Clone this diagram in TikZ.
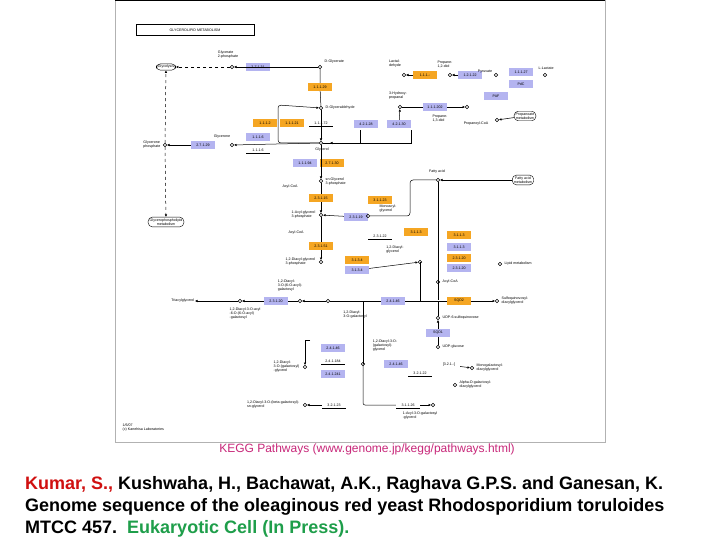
\documentclass[tikz,border=0pt]{standalone}
\usepackage{fontspec}
\setmainfont{Liberation Sans}
\usetikzlibrary{arrows.meta}
\definecolor{eor}{HTML}{F5A623}
\definecolor{elv}{HTML}{B4B4F0}
\definecolor{kmag}{HTML}{C8287A}
\definecolor{kred}{HTML}{D01010}
\definecolor{kgreen}{HTML}{1E9E4A}
\begin{document}
\begin{tikzpicture}[x=1pt,y=-1pt,
  tiny/.style={font=\fontsize{3.6}{4}\selectfont},
  ob/.style={tiny,fill=eor,minimum width=24pt,minimum height=8pt,inner sep=0.5pt},
  lb/.style={tiny,fill=elv,minimum width=24pt,minimum height=8pt,inner sep=0.5pt},
  ub/.style={tiny,minimum width=24pt,minimum height=7pt,inner sep=0.5pt,path picture={\draw (path picture bounding box.south west)--(path picture bounding box.south east);}},
  cpd/.style={circle,draw,minimum size=3.5pt,inner sep=0pt,line width=0.5pt},
  lab/.style={tiny,align=left,inner sep=0.5pt},
  path/.style={draw,rounded corners=4pt,tiny,align=center,inner sep=1.5pt},
  ln/.style={line width=0.5pt},
  ar/.style={ln,-{Latex[length=2.5pt,width=2.5pt]}}]
\useasboundingbox (0,0) rectangle (720,540);
\fill[white] (0,0) rectangle (720,540);
\draw[gray!60] (115,0) rectangle (605,442);
\draw[line width=1pt] (115,0.5)--(605,0.5);
% title
\node[draw,tiny,minimum width=118pt,minimum height=11pt,line width=0.5pt] (title) at (195,30) {GLYCEROLIPID METABOLISM};
% left dashed column
\node[path] (glyc) at (166,67) {Glycolysis};
\node[cpd] (dhap) at (165,145) {};
\node[lab,anchor=east] (dhapl) at (161,145) {Glycerone\\phosphate};
\node[path] (gpl) at (166,222) {Glycerophospholipid\\metabolism};
\draw[ar,dashed] (dhap)--(glyc);
\draw[ar,dashed] (dhap)--(gpl);
\node[lb] (e27131a) at (203,145) {2.7.1.29};
\draw[ar] (e27131a)--(dhap);
% top row
\node[cpd] (g2p) at (232,67) {};
\node[lab] (g2pl) at (228,55) {Glycerate\\2-phosphate};
\node[lb] (e27131) at (258,67) {2.7.1.31};
\node[cpd] (dgly) at (320,67) {};
\node[lab,anchor=west] (dglyl) at (324,62) {D-Glycerate};
\draw[ar,dashed] (g2p)--(glyc);
\draw[ar] (dgly)--(g2p);
\node[ob] (e1129) at (320,87) {1.1.1.29};
\node[cpd] (dgla) at (321,108) {};
\node[lab,anchor=west] (dglal) at (325,108) {D-Glyceraldehyde};
\draw[ln] (dgly)--(e1129)--(dgla);
\node[ob] (e1112) at (265,123) {1.1.1.2};
\node[ob] (e11121) at (292,123) {1.1.1.21};
\node[ub] (e11172) at (321,123) {1.1.1.72};
\node[cpd] (glol) at (321,143) {};
\node[lab] (glo) at (322,150) {Glycerol};
\draw[ar] (dgla)--(glol);
\draw[ar,rounded corners=3pt] (glol)--(278,143)--(278,105)--(dgla);
\node[cpd] (dha) at (232,145) {};
\node[lab] (dhal) at (222,137) {Glycerone};
\node[lb] (e1116) at (258,137) {1.1.1.6};
\node[ub] (e1116b) at (258,150) {1.1.1.6};
\draw[ar] (glol)--(dha);
% glycerol to right
\draw[ln] (glol)--(360,143)--(360,130);
\draw[ln] (360,143)--(411,143)--(411,130);
\node[lb] (e42128) at (366,124) {4.2.1.28};
\node[lb] (e42130) at (399,124) {4.2.1.30};
\node[cpd] (hpa) at (400,107) {};
\node[lab] (hpal) at (398,96) {3-Hydroxy-\\propanal};
\draw[ar] (e42130)--(hpa);
\node[lb] (e111202) at (435,107) {1.1.1.202};
\node[cpd] (pdo) at (467,107) {};
\node[lab] (pdol) at (440,118) {Propane-\\1,3-diol};
\draw[ln] (hpa)--(e111202); \draw[ar] (e111202)--(pdo);
% top right chain
\node[cpd] (hyd) at (404,75) {};
\node[lab] (hydl) at (395,64) {Lactal-\\dehyde};
\node[ob] (e111b) at (425,75) {1.1.1.-};
\node[cpd] (prop) at (450,75) {};
\node[lab] (propl) at (445,64) {Propane-\\1,2-diol};
\node[lb] (e12122) at (470,75) {1.2.1.22};
\node[cpd] (lac) at (496,75) {};
\node[lab] (lacl) at (485,72) {Pyruvate};
\node[lb] (e1127) at (521,72) {1.1.1.27};
\node[lb] (pdc) at (521,84) {PdC};
\node[cpd] (llac) at (545,75) {};
\node[lab,anchor=west] (llacl) at (538,68) {L-Lactate};
\draw[ar] (e111b)--(hyd); \draw[ar] (e12122)--(prop);
\node[lb] (pfl) at (496,96) {PAF};
\node[cpd] (pcoa) at (497,120) {};
\node[lab] (pcoal) at (476,124) {Propanoyl-CoA};
\node[path] (ppm) at (525,116) {Propanoate\\metabolism};
\draw[ar] (ppm)--(pcoa);
% glycerol 3-phosphate chain
\node[lb] (e27130) at (305,163) {1.1.1.94};
\node[ob] (e2731) at (332,163) {2.7.1.30};
\node[cpd] (g3p) at (321,181) {};
\node[lab,anchor=west] (g3pl) at (325,182) {sn-Glycerol\\3-phosphate};
\draw[ar] (glol)--(g3p);
\draw[ar] (364,143)--(330,143);
\node[lab] (acoa1) at (290,187) {Acyl-CoA};
\node[ob] (e23115) at (321,198) {2.3.1.15};
\node[cpd] (lpa) at (321,215) {};
\node[lab,anchor=east] (lpal) at (316,215) {1-Acyl-glycerol\\3-phosphate};
\draw[ln] (g3p)--(e23115); \draw[ar] (e23115)--(lpa);
\node[lb] (e23151a) at (356,217) {2.3.1.19};
\node[lab] (acoa2) at (296,233) {Acyl-CoA};
\node[ob] (e23151) at (321,246) {2.3.1.51};
\node[cpd] (pa) at (321,262) {};
\node[lab,anchor=east] (pal) at (316,262) {1,2-Diacyl-glycerol\\3-phosphate};
\draw[ln] (lpa)--(e23151); \draw[ar] (e23151)--(pa);
\node[ob] (e3134) at (357,260) {3.1.3.4};
\node[lb] (e3134b) at (357,270) {3.1.3.4};
% fatty acid
\node[cpd] (fa) at (438,180) {};
\node[lab] (fal) at (437,172) {Fatty acid};
\node[path] (fam) at (523,180) {Fatty acid\\metabolism};
\draw[ar] (fam)--(fa);
\node[ob] (e31123) at (380,200) {3.1.1.23};
\node[cpd] (mag) at (368,216) {};
\node[lab] (magl) at (388,209) {Monoacyl-\\glycerol};
\draw[ar] (e23151a)--(lpa);
\draw[ln,rounded corners=3pt] (mag)--(410,216)--(410,180)--(fa);
\node[ub] (e23122) at (380,236) {2.3.1.22};
\node[ob] (e3113) at (416,232) {3.1.1.3};
\node[cpd] (dag) at (420,262) {};
\node[lab] (dagl) at (395,250) {1,2-Diacyl-\\glycerol};
\draw[ar] (e3134b)--(dag);
\draw[ln] (fa)--(438,300);
\node[ob] (l1) at (459,235) {3.1.1.3};
\node[lb] (l2) at (459,247) {3.1.1.3};
\node[ob] (l3) at (459,258) {2.3.1.20};
\node[lb] (l4) at (459,268) {2.3.1.20};
\node[cpd] (lip) at (500,264) {};
\node[lab,anchor=west] (lipl) at (504,264) {Lipid metabolism};
\node[cpd] (acoa3) at (438,282) {};
\node[lab,anchor=west] (acoa3l) at (442,282) {Acyl-CoA};
% row 301
\node[lab,anchor=east] (tag) at (195,301) {Triacylglycerol};
\node[cpd] (c1) at (240,301) {};
\node[lb] (e23120) at (276,301) {2.3.1.20};
\node[cpd] (c2) at (300,301) {};
\node[cpd] (c3) at (328,301) {};
\node[lab] (c2l) at (290,286) {1,2-Diacyl-\\3-O-(6-O-acyl)-\\galactosyl};
\node[lab] (c1l) at (245,314) {1,2-Diacyl-3-O-acyl\\-6-O-(6-O-acyl)\\-galactosyl};
\node[lab] (c3l) at (355,315) {1,2-Diacyl-\\3-O-galactosyl};
\draw[ar] (c1)--(tag); \draw[ar] (e23120)--(c1); \draw[ln] (c2)--(e23120); \draw[ar] (c3)--(c2);
\node[lb] (e24146) at (393,301) {2.4.1.46};
\draw[ln] (c3)--(e24146)--(420,301);
\node[ob] (sqd2) at (459,301) {SQD2};
\node[cpd] (sq) at (497,301) {};
\node[lab,anchor=west] (sql) at (501,301) {Sulfoquinovosyl-\\diacylglycerol};
\draw[ln] (420,301)--(sqd2); \draw[ar] (sqd2)--(sq);
\draw[ln] (420,262)--(420,301);
\node[cpd] (udps) at (438,318) {};
\node[lab,anchor=west] (udpsl) at (442,318) {UDP-6-sulfoquinovose};
\node[lb] (sqd1) at (438,333) {SQD1};
\node[cpd] (udpg) at (438,347) {};
\node[lab,anchor=west] (udpgl) at (442,347) {UDP-glucose};
\draw[ar] (sqd1)--(udps); \draw[ln] (udpg)--(sqd1); \draw[ln] (udps)--(438,301);
% galactosyl area
\node[lb] (g1) at (333,348) {2.4.1.46};
\node[ub] (g2) at (333,361) {2.4.1.184};
\node[lb] (g3) at (333,374) {2.4.1.241};
\node[cpd] (gal) at (305,367) {};
\node[lab,anchor=east] (gall) at (300,367) {1,2-Diacyl-\\3-O-(galactosyl)\\-glycerol};
\draw[ar] (310,340)--(305,340)--(gal);
\node[lab] (gal2) at (385,346) {1,2-Diacyl-3-O-\\(galactosyl)-\\glycerol};
\node[lb] (g4) at (396,364) {2.4.1.46};
\node[cpd] (gal3) at (363,364) {};
\node[ub] (g5) at (420,373) {3.2.1.22};
\node[tiny,minimum width=22pt,minimum height=7pt,inner sep=0.5pt] (g6) at (449,365) {[3.2.1.-]};
\node[cpd] (mgdg) at (472,368) {};
\node[lab,anchor=west] (mgdgl) at (476,368) {Monogalactosyl-\\diacylglycerol};
\node[cpd] (agdg) at (455,385) {};
\node[lab,anchor=west] (agdgl) at (459,385) {Alpha-D-galactosyl-\\diacylglycerol};
\draw[ar] (g6)--(mgdg);
\draw[ln] (363,301)--(363,364);
% bottom row
\node[cpd] (bg) at (305,405) {};
\node[lab,anchor=east] (bgl) at (300,405) {1,2-Diacyl-3-O-(beta-galactosyl)-\\sn-glycerol};
\node[ub] (e32123) at (334,405) {3.2.1.23};
\draw[ar] (e32123)--(bg);
\node[ub] (e31126) at (408,405) {3.1.1.26};
\node[cpd] (mg) at (433,405) {};
\node[lab] (mgl) at (420,416) {1-Acyl-3-O-galactosyl\\-glycerol};
\draw[ln,rounded corners=2pt] (363,364)--(363,405)--(e31126);
\draw[ar] (e31126)--(mg);
\node[lab,anchor=west] (date) at (122,428) {1/6/07\\(c) Kanehisa Laboratories};
% caption
\node[font=\fontsize{12}{13}\selectfont,text=kmag] (cap) at (367,449) {KEGG Pathways (www.genome.jp/kegg/pathways.html)};
\node[font=\bfseries\fontsize{18}{22}\selectfont,anchor=north west,align=left,inner sep=0] (ref) at (25,476) {\textcolor{kred}{Kumar, S.,} Kushwaha, H., Bachawat, A.K., Raghava G.P.S. and Ganesan, K.\\Genome sequence of the oleaginous red yeast Rhodosporidium toruloides\\MTCC 457.\ \ \textcolor{kgreen}{Eukaryotic Cell (In Press).}};
\end{tikzpicture}
\end{document}
